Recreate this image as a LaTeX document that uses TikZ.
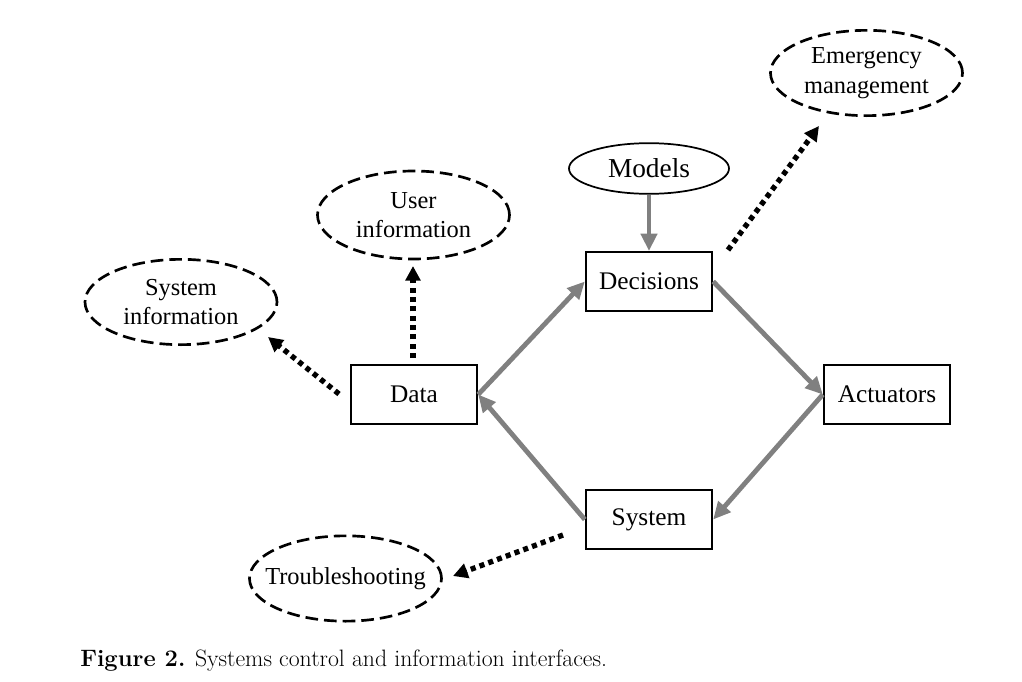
\documentclass[tikz,border=0pt]{standalone}
\usepackage{fontspec}
\setmainfont{Liberation Serif}
\newfontfamily\capfont{Latin Modern Roman}
\usetikzlibrary{shapes.geometric,arrows.meta}
\begin{document}
\begin{tikzpicture}[x=0.75pt,y=-0.75pt,
  box/.style={draw,line width=1.8pt,minimum width=94.5pt,minimum height=44pt,inner sep=0pt,font=\fontsize{19}{22}\selectfont},
  oval/.style={draw,ellipse,line width=1.3pt,minimum width=120pt,minimum height=38pt,inner sep=0pt,font=\fontsize{20.5}{22}\selectfont},
  dashoval/.style={draw,ellipse,line width=2pt,dash pattern=on 9.5pt off 4.5pt,inner sep=0pt},
  ovaltext/.style={inner sep=0pt,align=center,font=\fontsize{18.3}{22}\selectfont},
  flow/.style={draw={rgb,255:red,128;green,128;blue,128},line width=3.6pt,-{Triangle[length=13pt,width=12pt]}},
  info/.style={draw=black,line width=4pt,dash pattern=on 3.8pt off 3.2pt,-{Triangle[length=11pt,width=11pt]}}
]
\useasboundingbox (0,0) rectangle (1022,682);
\node[oval] (models) at (649,168.5) {Models};
\node[box] (dec) at (649,281.5) {Decisions};
\node[box] (data) at (414,394.5) {Data};
\node[box] (act) at (887,394.5) {Actuators};
\node[box] (sys) at (649,519.5) {System};
\node[dashoval,minimum width=144pt,minimum height=66pt] (user) at (413.5,215) {};
\node[ovaltext] (usert) at (user) {User\\information};
\node[dashoval,minimum width=144pt,minimum height=64pt] (sysinfo) at (181,302) {};
\node[ovaltext] (sysinfot) at (sysinfo) {System\\information};
\node[dashoval,minimum width=144pt,minimum height=64pt] (emer) at (866.5,73) {};
\node[ovaltext] (emert) at (emer) {Emergency\\management};
\node[dashoval,minimum width=144pt,minimum height=64pt] (trouble) at (345.5,578.5) {};
\node[ovaltext] (troublet) at (trouble) {Troubleshooting};
\node[anchor=west,inner sep=0pt,font=\capfont\fontsize{17.8}{20}\selectfont] (cap) at (80,661) {\textbf{Figure 2.} Systems control and information interfaces.};
\draw[flow] (models.south) -- (dec.north);
\draw[flow] (data.east) -- (dec.west);
\draw[flow] (dec.east) -- (act.west);
\draw[flow] (act.west) -- (sys.east);
\draw[flow] (sys.west) -- (data.east);
\coordinate (d1) at (413,358);
\coordinate (d2) at (339,394);
\coordinate (d3) at (728,250);
\coordinate (d4) at (563,535);
\coordinate (u1) at (413,266);
\coordinate (s1) at (268,337);
\coordinate (e1) at (819,126);
\coordinate (t1) at (453,576);
\draw[info] (d1) -- (u1);
\draw[info] (d2) -- (s1);
\draw[info] (d3) -- (e1);
\draw[info] (d4) -- (t1);
\end{tikzpicture}
\end{document}
